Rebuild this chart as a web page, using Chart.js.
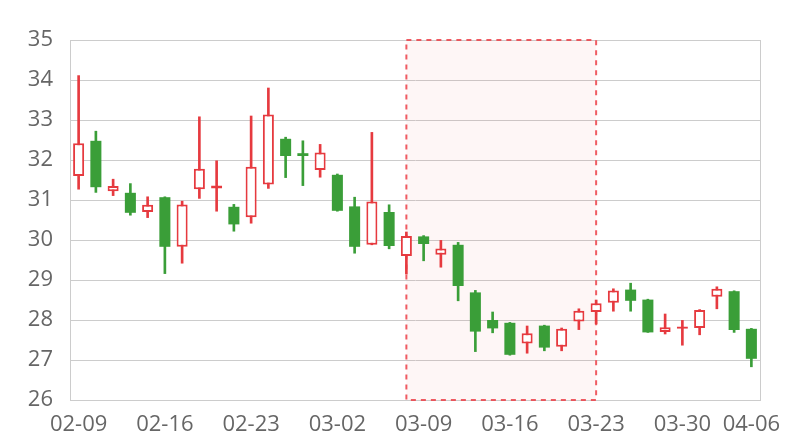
<!DOCTYPE html>
<html>
<head>
<meta charset="utf-8">
<script src="https://cdn.jsdelivr.net/npm/chart.js@4.4.1/dist/chart.umd.min.js"></script>
<style>
  html, body { margin: 0; padding: 0; background: #fff; }
  #wrap { width: 800px; height: 440px; }
</style>
</head>
<body>
<div id="wrap"><canvas id="kChart"></canvas></div>
<script>
// trading days (category axis), one candle per day
const dates = [
  "02-09", "02-10", "02-11", "02-12", "02-13",
  "02-16", "02-17", "02-18", "02-19", "02-20",
  "02-23", "02-24", "02-25", "02-26", "02-27",
  "03-02", "03-03", "03-04", "03-05", "03-06",
  "03-09", "03-10", "03-11", "03-12", "03-13",
  "03-16", "03-17", "03-18", "03-19", "03-20",
  "03-23", "03-24", "03-25", "03-26", "03-27",
  "03-30", "03-31", "04-01", "04-02", "04-06"
];
const opens = [
  31.60, 32.48, 31.22, 31.18, 30.70, 31.07, 29.83, 31.27, 31.29, 30.83,
  30.57, 31.39, 32.53, 32.17, 31.75, 31.63, 30.84, 29.88, 30.70, 29.60,
  30.09, 29.63, 29.88, 28.69, 28.00, 27.93, 27.41, 27.86, 27.33, 27.96,
  28.20, 28.43, 28.76, 28.51, 27.70, 27.78, 27.80, 28.58, 28.72, 27.78
];
const closes = [
  32.42, 31.32, 31.35, 30.68, 30.88, 29.83, 30.89, 31.78, 31.36, 30.39,
  31.83, 33.14, 32.10, 32.10, 32.19, 30.73, 29.83, 30.96, 29.85, 30.10,
  29.90, 29.79, 28.85, 27.71, 27.79, 27.13, 27.67, 27.31, 27.78, 28.23,
  28.42, 28.74, 28.48, 27.69, 27.82, 27.84, 28.25, 28.78, 27.75, 27.03
];
const highs = [
  34.11, 32.72, 31.52, 31.41, 31.08, 31.08, 30.97, 33.08, 31.98, 30.89,
  33.10, 33.80, 32.57, 32.48, 32.39, 31.65, 31.07, 32.69, 30.88, 30.20,
  30.11, 29.99, 29.94, 28.74, 28.20, 27.94, 27.85, 27.87, 27.80, 28.28,
  28.50, 28.78, 28.92, 28.52, 28.15, 27.99, 28.26, 28.83, 28.73, 27.79
];
const lows = [
  31.27, 31.19, 31.11, 30.62, 30.56, 29.16, 29.42, 31.04, 30.72, 30.22,
  30.42, 31.29, 31.56, 31.36, 31.57, 30.72, 29.67, 29.88, 29.78, 29.15,
  29.48, 29.32, 28.48, 27.21, 27.68, 27.12, 27.17, 27.23, 27.23, 27.76,
  27.90, 28.22, 28.22, 27.69, 27.65, 27.37, 27.63, 28.28, 27.69, 26.83
];
const yTicks = { min: 26, max: 35, step: 1 };
// shaded window
const zoneStart = "03-06";
const zoneEnd = "03-23";

const UP = "#e63a3f";
const DOWN = "#3a9e38";
const isUp = (i) => closes[i] >= opens[i];

const zonePlugin = {
  id: "zone",
  beforeDatasetsDraw(chart) {
    const { ctx, chartArea, scales } = chart;
    const x1 = scales.x.getPixelForValue(dates.indexOf(zoneStart));
    const x2 = scales.x.getPixelForValue(dates.indexOf(zoneEnd));
    const top = chartArea.top;
    const bottom = chartArea.bottom;
    ctx.save();
    // right frame line
    ctx.strokeStyle = "#cccccc";
    ctx.lineWidth = 1;
    ctx.beginPath();
    ctx.moveTo(chartArea.right + 0.5, top);
    ctx.lineTo(chartArea.right + 0.5, bottom);
    ctx.stroke();
    ctx.fillStyle = "rgba(240, 70, 70, 0.05)";
    ctx.fillRect(x1, top, x2 - x1, bottom - top);
    ctx.strokeStyle = "rgba(236, 64, 72, 0.85)";
    ctx.lineWidth = 2;
    ctx.setLineDash([5, 5]);
    ctx.strokeRect(x1, top, x2 - x1, bottom - top);
    ctx.restore();
  }
};

const ctx = document.getElementById("kChart").getContext("2d");
new Chart(ctx, {
  type: "bar",
  data: {
    labels: dates,
    datasets: [
      {
        // candle bodies
        data: dates.map((d, i) => [opens[i], closes[i]]),
        backgroundColor: (c) => (isUp(c.dataIndex) ? "#ffffff" : DOWN),
        borderColor: (c) => (isUp(c.dataIndex) ? UP : DOWN),
        borderWidth: (c) => (isUp(c.dataIndex) ? 2 : 0),
        borderSkipped: false,
        categoryPercentage: 1,
        barPercentage: 0.64,
        grouped: false,
        order: 1
      },
      {
        // wicks
        data: dates.map((d, i) => [lows[i], highs[i]]),
        backgroundColor: (c) => (isUp(c.dataIndex) ? UP : DOWN),
        borderWidth: 0,
        barThickness: 2,
        grouped: false,
        order: 2
      }
    ]
  },
  options: {
    responsive: true,
    maintainAspectRatio: false,
    animation: false,
    layout: { padding: { left: 0, right: 40, top: 40, bottom: 0 } },
    plugins: {
      legend: { display: false },
      tooltip: { enabled: false }
    },
    scales: {
      x: {
        offset: true,
        grid: { display: false, drawTicks: false },
        border: { display: true, color: "#cccccc" },
        ticks: {
          autoSkip: false,
          maxRotation: 0,
          padding: 12,
          color: "#666666",
          font: { family: "'Open Sans'", size: 22 },
          callback: function (value, index) {
            return index % 5 === 0 || index === dates.length - 1 ? dates[index] : "";
          }
        },
        afterFit: (s) => { s.height = 40; }
      },
      y: {
        min: yTicks.min,
        max: yTicks.max,
        grid: { color: "#cccccc", drawTicks: false },
        border: { display: true, color: "#cccccc" },
        ticks: {
          stepSize: yTicks.step,
          padding: 17,
          color: "#666666",
          font: { family: "'Open Sans'", size: 22 }
        },
        afterFit: (s) => { s.width = 70; }
      }
    }
  },
  plugins: [zonePlugin]
});
</script>
</body>
</html>
